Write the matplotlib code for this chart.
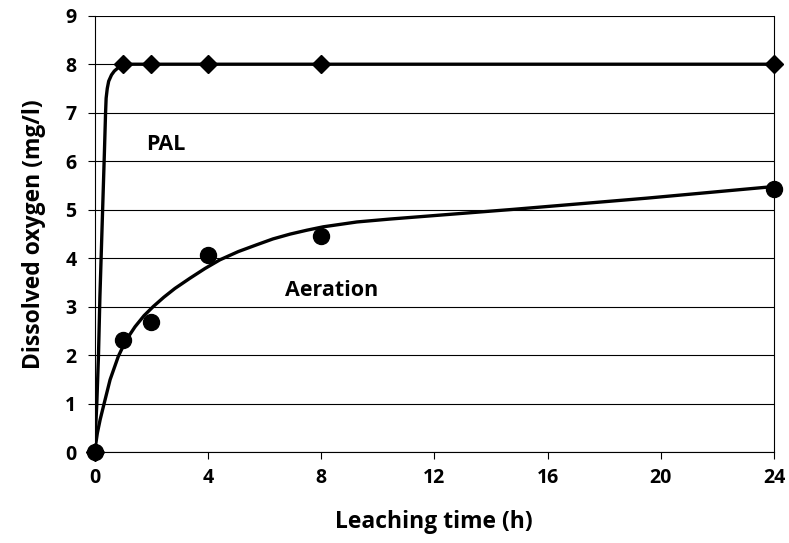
import matplotlib
matplotlib.use("Agg")
import matplotlib.pyplot as plt

plt.rcParams['font.family'] = ['Open Sans', 'DejaVu Sans']

# measured points
hours = [0, 1, 2, 4, 8, 24]
pal_do = [0, 8.0, 8.0, 8.0, 8.0, 8.0]
aeration_do = [0, 2.31, 2.68, 4.07, 4.46, 5.43]

# fitted trend lines (traced)
pal_fit_x = [0, 0.08, 0.14, 0.19, 0.27, 0.35, 0.39, 0.41, 0.45, 0.5, 0.6, 0.7,
             0.84, 1.0, 1.3, 2, 24]
pal_fit_y = [0, 1.0, 2.0, 3.2, 4.7, 6.2, 7.0, 7.3, 7.5, 7.65, 7.78, 7.86,
             7.93, 7.97, 8.0, 8.0, 8.0]
aer_fit_x = [0, 0.1, 0.2, 0.31, 0.55, 0.84, 1.1, 1.43, 1.75, 2.08, 2.45, 2.84,
             3.37, 3.9, 4.43, 5.08, 5.73, 6.3, 6.91, 7.5, 8.08, 9.27, 10.44,
             14.8, 19.5, 24]
aer_fit_y = [0, 0.4, 0.68, 0.94, 1.5, 1.98, 2.3, 2.59, 2.82, 3.01, 3.2, 3.38,
             3.59, 3.79, 3.97, 4.14, 4.28, 4.4, 4.5, 4.58, 4.65, 4.75, 4.81,
             5.01, 5.24, 5.48]

x_ticks = [0, 4, 8, 12, 16, 20, 24]
y_ticks = list(range(10))

fig = plt.figure(figsize=(7.89, 5.43), dpi=100)
ax = fig.add_axes([0.1198, 0.1667, 0.8612, 0.8044])

for y in y_ticks:
    ax.axhline(y, color='black', lw=0.8, zorder=1)

for fx, fy in [(pal_fit_x, pal_fit_y), (aer_fit_x, aer_fit_y)]:
    ax.plot(fx, fy, color='black', lw=2.4, zorder=3,
            solid_capstyle='round', solid_joinstyle='round')
ax.plot(hours, pal_do, ls='none', marker='D', ms=9, color='black', zorder=4,
        clip_on=False)
ax.plot(hours, aeration_do, ls='none', marker='o', ms=11.5, color='black', zorder=5,
        clip_on=False)

ax.text(2.53, 6.34, 'PAL', fontsize=15.5, fontweight='bold', ha='center', va='center')
ax.text(8.37, 3.33, 'Aeration', fontsize=15.5, fontweight='bold', ha='center', va='center')

ax.set_xlim(0, 24)
ax.set_ylim(0, 9)
ax.set_xticks(x_ticks)
ax.set_yticks(y_ticks)
ax.tick_params(axis='both', direction='out', length=5, width=0.8, color='black',
               labelsize=14, pad=6)
ax.tick_params(axis='y', pad=8)
for lbl in ax.get_xticklabels() + ax.get_yticklabels():
    lbl.set_fontweight('bold')
ax.spines['top'].set_visible(False)
for s in ['left', 'right', 'bottom']:
    ax.spines[s].set_linewidth(0.8)

ax.set_xlabel('Leaching time (h)', fontsize=16.5, fontweight='bold', labelpad=16)
ax.set_ylabel('Dissolved oxygen (mg/l)', fontsize=16.5, fontweight='bold', labelpad=14)

fig.savefig('out.png', dpi=100)
